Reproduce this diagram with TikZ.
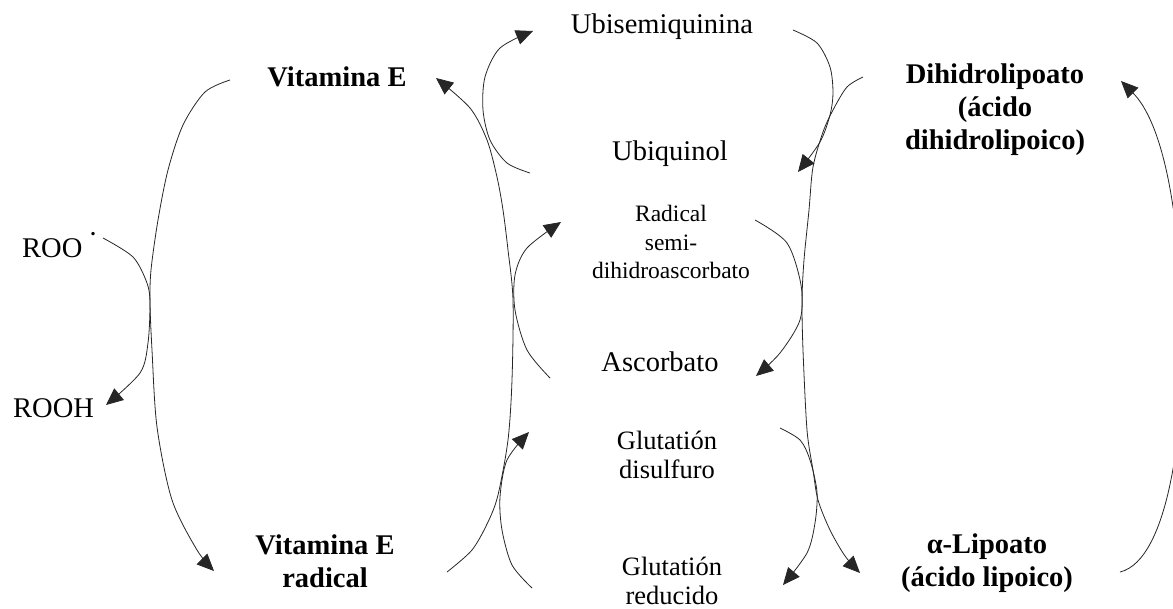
\documentclass[tikz,border=0pt]{standalone}
\usepackage{fontspec}
\setmainfont{Liberation Serif}
\usetikzlibrary{arrows.meta}
\begin{document}
\begin{tikzpicture}[x=1pt,y=-1pt,
  lbl/.style={inner sep=0pt, align=center, font=\fontsize{28.5}{32.5}\selectfont},
  blbl/.style={inner sep=0pt, align=center, font=\fontsize{28.5}{33}\selectfont\bfseries},
  smalllbl/.style={inner sep=0pt, align=center, font=\fontsize{23.5}{28.5}\selectfont},
  midlbl/.style={inner sep=0pt, align=center, font=\fontsize{26.5}{29}\selectfont},
  conn/.style={line width=0.8pt, black!85, -{Triangle[length=17pt,width=15pt]}},
]
\useasboundingbox (0,0) rectangle (1173,608);

% labels
\node[blbl] (vitE) at (337,77) {Vitamina E};
\node[blbl] (vitEr) at (325,561) {Vitamina E\\radical};
\node[lbl,anchor=base west] (roo) at (22,257) {ROO\hspace{6pt}\raisebox{14pt}{·}};
\node[lbl,anchor=base west] (rooh) at (13,417) {ROOH};
\node[lbl] (ubisq) at (662,27) {Ubisemiquinina};
\node[lbl] (ubiq) at (670,154) {Ubiquinol};
\node[smalllbl] (rad) at (671,242) {Radical\\semi-\\dihidroascorbato};
\node[lbl] (asc) at (660,362) {Ascorbato};
\node[midlbl] (gssg) at (667,455) {Glutatión\\disulfuro};
\node[midlbl] (gsh) at (672,581) {Glutatión\\reducido};
\node[blbl] (dhla) at (995,110) {Dihidrolipoato\\(ácido\\dihidrolipoico)};
\node[blbl] (la) at (987,563) {α-Lipoato\\(ácido lipoico)};

% connector end points
\coordinate (a0) at (230,80);   \coordinate (a1) at (214,571);
\coordinate (r0) at (103,238);  \coordinate (r1) at (106,405);
\coordinate (c0) at (447,572);  \coordinate (c1) at (436,78);
\coordinate (u0) at (530,173);  \coordinate (u1) at (533,31);
\coordinate (s0) at (550,378);  \coordinate (s1) at (561,222);
\coordinate (g0) at (532,588);  \coordinate (g1) at (529,432);
\coordinate (q0) at (793,30);   \coordinate (q1) at (798,172);
\coordinate (d0) at (863,77);   \coordinate (d1) at (860,573);
\coordinate (h0) at (755,220);  \coordinate (h1) at (756,376);
\coordinate (k0) at (780,428);  \coordinate (k1) at (783,585);
\coordinate (e0) at (1120,572); \coordinate (e1) at (1121,81);

% left: vitamin E cycle
\draw[conn] plot[smooth] coordinates {(a0) (205,92) (183,125) (168,170) (158,220) (151,270) (150,303) (152,350) (157,427) (172,500) (197,550) (a1)};
\draw[conn] plot[smooth] coordinates {(r0) (133,257) (147,283) (150,303) (148,343) (140,373) (r1)};
\draw[conn] plot[smooth] coordinates {(c0) (472,550) (488,522) (498,495) (508,440) (512,380) (513,300) (508,250) (503,210) (497,177) (487,140) (470,108) (c1)};
\draw[conn] plot[smooth] coordinates {(u0) (507,163) (490,140) (483,110) (485,77) (500,48) (u1)};
\draw[conn] plot[smooth] coordinates {(s0) (527,350) (515,310) (515,275) (527,248) (s1)};
\draw[conn] plot[smooth] coordinates {(g0) (512,565) (502,530) (500,497) (507,460) (g1)};

% right: lipoate cycle
\draw[conn] plot[smooth] coordinates {(q0) (817,43) (830,67) (833,93) (830,115) (820,142) (q1)};
\draw[conn] plot[smooth] coordinates {(d0) (847,87) (833,110) (823,132) (813,167) (809,210) (804,260) (802,300) (803,350) (807,430) (813,470) (818,500) (830,530) (845,556) (d1)};
\draw[conn] plot[smooth] coordinates {(h0) (787,243) (801,285) (800,320) (780,353) (h1)};
\draw[conn] plot[smooth] coordinates {(k0) (800,440) (810,460) (817,492) (815,523) (807,553) (k1)};
\draw[conn] (e0) .. controls (1170,560) and (1185,420) .. (1182,330) .. controls (1180,200) and (1160,120) .. (e1);
\end{tikzpicture}
\end{document}
